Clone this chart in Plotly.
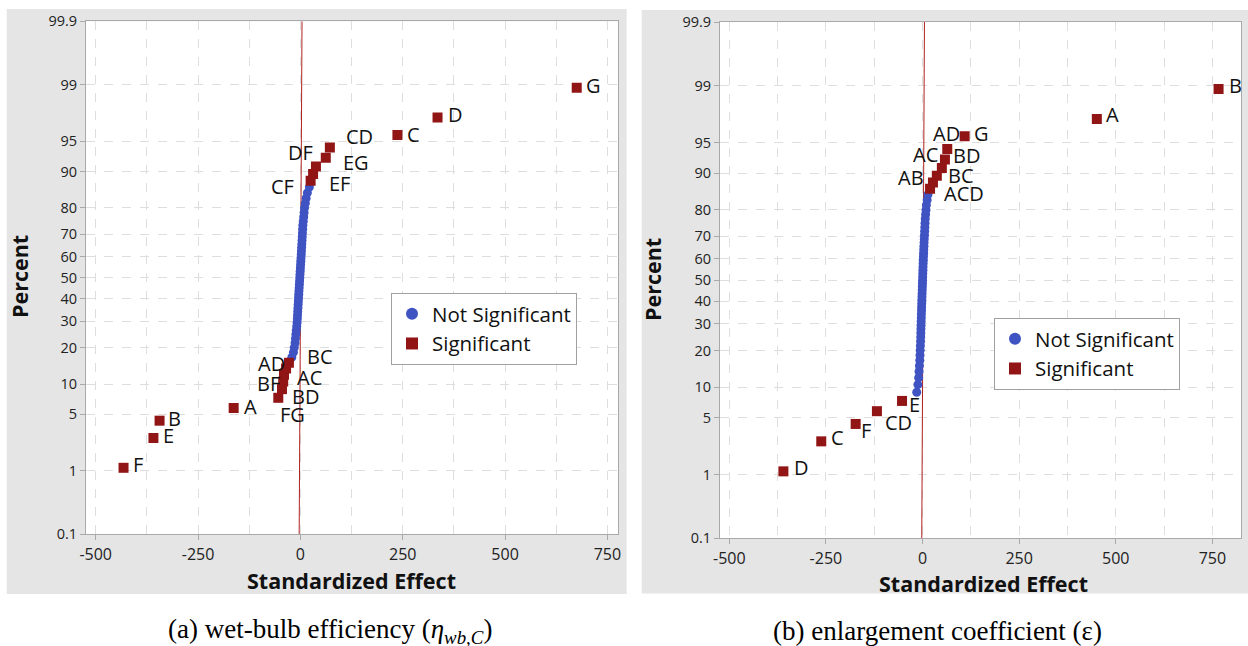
import plotly.graph_objects as go
from statistics import NormalDist

# ---------------- data ----------------
# Panel (a): wet-bulb efficiency
a_sig_names = ["F", "E", "B", "A", "FG", "BD", "BF", "AC", "AD", "BC",
               "CF", "EF", "EG", "DF", "CD", "C", "D", "G"]
a_sig_values = [-432, -359, -344, -163, -54, -45, -42, -40, -35, -28,
                25, 31, 38, 62, 72, 237, 335, 675]
a_ns_values = [-21, -17, -15, -13, -12, -11, -10, -9, -8, -7.5, -7, -6.5, -6, -5.5, -5,
               -4.5, -4, -3.5, -3, -2.5, -2, -1.5, -1, -0.5, 0, 0.5, 1, 1.5, 2, 2.5,
               3, 3.5, 4, 4.5, 5, 5.5, 6, 7, 8, 9, 10, 12, 14, 17, 22]
a_ref_line = [-3, 4]

# Panel (b): enlargement coefficient
b_sig_names = ["D", "C", "F", "CD", "E",
               "ACD", "AB", "BC", "BD", "AC", "AD", "G", "A", "B"]
b_sig_values = [-360, -262, -173, -118, -53,
                19.5, 27, 37, 50, 58, 64, 109, 451, 766]
b_ns_values = [-15, -12, -10, -9, -8, -7, -6.5, -6, -5.5,
               -5, -4.7, -4.4, -4.1, -3.8, -3.5, -3.2, -2.9, -2.6, -2.3, -2, -1.7, -1.4,
               -1.1, -0.8, -0.5, -0.2, 0.1, 0.4,
               0.7, 1, 1.3, 1.6, 2, 2.4, 2.8, 3.2, 3.6, 4, 4.5, 5, 5.5, 6, 6.5, 7,
               8, 9, 10, 12, 14]
b_ref_line = [-2, 5]

pct_ticks = [0.1, 1, 5, 10, 20, 30, 40, 50, 60, 70, 80, 90, 95, 99, 99.9]
pct_labels = ["0.1", "1", "5", "10", "20", "30", "40", "50", "60", "70", "80", "90", "95", "99", "99.9"]
x_ticks = [-500, -250, 0, 250, 500, 750]

# label offsets (px: dx right, dy down) – styling only
a_label_off = {"F": (14, -3), "E": (15, -2), "B": (15, -2), "A": (17, -2), "FG": (14, 17),
               "BD": (24, 7), "BF": (-15, 2), "AC": (25, 3), "AD": (-15, -5), "BC": (31, -6),
               "CF": (-28, 6), "EF": (26, 9), "EG": (40, -4), "DF": (-25, -5), "CD": (30, -11),
               "C": (16, 0), "D": (18, -3), "G": (17, -2)}
b_label_off = {"D": (18, -4), "C": (16, -4), "F": (10, 7), "CD": (22, 11), "E": (12, 4),
               "ACD": (34, 5), "AB": (-22, -5), "BC": (24, 0), "BD": (25, -13), "AC": (-19, -5),
               "AD": (-1, -16), "G": (17, -3), "A": (16, -4), "B": (17, -3)}

nd = NormalDist()
W, H = 1248, 646
BLUE = "#3f53c2"
RED = "#921515"
FONT = "Open Sans"


def fx(t):
    """pixel x -> paper fraction (clamped)"""
    return min(max(t / W, 0.0), 1.0)


def fy(t):
    """pixel y (from top) -> paper fraction (clamped)"""
    return min(max(1 - t / H, 0.0), 1.0)


def probit_positions(sig_names, sig_values, ns_values):
    items = [(v, nm) for v, nm in zip(sig_values, sig_names)] + [(v, None) for v in ns_values]
    items.sort(key=lambda t: t[0])
    n = len(items)
    out = []
    for i, (v, nm) in enumerate(items, start=1):
        p = (i - 0.3) / (n + 0.4)
        out.append((v, nd.inv_cdf(p), nm))
    return out


zmin, zmax = nd.inv_cdf(0.001), nd.inv_cdf(0.999)
ztick = [nd.inv_cdf(p / 100) for p in pct_ticks]

fig = go.Figure()

# panel backgrounds
shapes = [
    dict(type="rect", xref="paper", yref="paper", x0=fx(6.7), x1=fx(626.7),
         y0=fy(594), y1=fy(9), fillcolor="#e5e5e5", line_width=0, layer="below"),
    dict(type="rect", xref="paper", yref="paper", x0=fx(641.7), x1=1.0,
         y0=fy(593.5), y1=fy(10), fillcolor="#e5e5e5", line_width=0, layer="below"),
    dict(type="rect", xref="x domain", yref="y domain", x0=0, x1=1, y0=0, y1=1,
         fillcolor="white", line_width=0, layer="below"),
    dict(type="rect", xref="x2 domain", yref="y2 domain", x0=0, x1=1, y0=0, y1=1,
         fillcolor="white", line_width=0, layer="below"),
]

annotations = []
panels = [
    ("x", "y", "legend", a_sig_names, a_sig_values, a_ns_values, a_ref_line, a_label_off),
    ("x2", "y2", "legend2", b_sig_names, b_sig_values, b_ns_values, b_ref_line, b_label_off),
]
for xa, ya, lg, sn, sv, nv, refl, offs in panels:
    pts = probit_positions(sn, sv, nv)
    fig.add_trace(go.Scatter(x=refl, y=[zmin, zmax], mode="lines", xaxis=xa, yaxis=ya,
                             line=dict(color="#b02020", width=1), showlegend=False,
                             hoverinfo="skip"))
    ns = [p for p in pts if p[2] is None]
    sg = [p for p in pts if p[2] is not None]
    fig.add_trace(go.Scatter(x=[p[0] for p in ns], y=[p[1] for p in ns], mode="markers",
                             name="Not Significant", xaxis=xa, yaxis=ya, legend=lg,
                             marker=dict(symbol="circle", size=9, color=BLUE)))
    fig.add_trace(go.Scatter(x=[p[0] for p in sg], y=[p[1] for p in sg], mode="markers",
                             name="Significant", xaxis=xa, yaxis=ya, legend=lg,
                             marker=dict(symbol="square", size=10, color=RED)))
    for v, z, nm in sg:
        dx, dy = offs[nm]
        annotations.append(dict(x=v, y=z, xref=xa, yref=ya, text=nm, showarrow=False,
                                xanchor="center", yanchor="middle", xshift=dx, yshift=-dy,
                                font=dict(family=FONT, size=20, color="#111111")))

axis_common = dict(showline=True, mirror=True, linecolor="#a9a9a9", linewidth=1,
                   ticks="outside", ticklen=5, tickcolor="#a9a9a9",
                   showgrid=True, gridcolor="#dedede", griddash="dash", gridwidth=1,
                   zeroline=False, automargin=False)
xtickfont = dict(family=FONT, size=16, color="#222222")
ytickfont = dict(family=FONT, size=14.5, color="#222222")
minor_x = dict(dtick=125, tick0=0, showgrid=True, gridcolor="#dedede", griddash="dash", ticks="")

fig.update_layout(
    width=W, height=H, margin=dict(l=0, r=0, t=0, b=0, autoexpand=False),
    paper_bgcolor="white", plot_bgcolor="rgba(0,0,0,0)",
    shapes=shapes,
    xaxis=dict(domain=[fx(86), fx(618)], range=[-523.7, 775.8], anchor="y",
               tickvals=x_ticks, ticktext=[str(t) for t in x_ticks], tickfont=xtickfont,
               minor=minor_x, **axis_common),
    yaxis=dict(domain=[fy(534.3), fy(21.3)], range=[zmin, zmax], anchor="x",
               tickvals=ztick, ticktext=pct_labels, tickfont=ytickfont, **axis_common),
    xaxis2=dict(domain=[fx(720), fx(1241)], range=[-524, 824], anchor="y2",
                tickvals=x_ticks, ticktext=[str(t) for t in x_ticks], tickfont=xtickfont,
                minor=minor_x, **axis_common),
    yaxis2=dict(domain=[fy(538.3), fy(22)], range=[zmin, zmax], anchor="x2",
                tickvals=ztick, ticktext=pct_labels, tickfont=ytickfont, **axis_common),
    legend=dict(x=fx(391), y=fy(293), xanchor="left", yanchor="top",
                bgcolor="white", bordercolor="#a0a0a0", borderwidth=1,
                font=dict(family=FONT, size=20.5, color="#111111"), itemsizing="constant"),
    legend2=dict(x=fx(994), y=fy(318), xanchor="left", yanchor="top",
                 bgcolor="white", bordercolor="#a0a0a0", borderwidth=1,
                 font=dict(family=FONT, size=20.5, color="#111111"), itemsizing="constant"),
    showlegend=True,
)

title_font = dict(family=FONT, size=21.5, color="#111111")
annotations += [
    dict(x=fx(351), y=fy(580), xref="paper", yref="paper", text="<b>Standardized Effect</b>",
         showarrow=False, xanchor="center", yanchor="middle", font=title_font),
    dict(x=fx(983), y=fy(583), xref="paper", yref="paper", text="<b>Standardized Effect</b>",
         showarrow=False, xanchor="center", yanchor="middle", font=title_font),
    dict(x=fx(19), y=fy(277), xref="paper", yref="paper", text="<b>Percent</b>",
         showarrow=False, xanchor="center", yanchor="middle", textangle=-90, font=title_font),
    dict(x=fx(652), y=fy(280), xref="paper", yref="paper", text="<b>Percent</b>",
         showarrow=False, xanchor="center", yanchor="middle", textangle=-90, font=title_font),
    dict(x=fx(330), y=fy(631), xref="paper", yref="paper",
         text="(a) wet-bulb efficiency (<i>η</i><sub><i>wb,C</i></sub>)",
         showarrow=False, xanchor="center", yanchor="middle",
         font=dict(family="Liberation Serif", size=27, color="black")),
    dict(x=fx(937), y=fy(631), xref="paper", yref="paper",
         text="(b) enlargement coefficient (ε)",
         showarrow=False, xanchor="center", yanchor="middle",
         font=dict(family="Liberation Serif", size=27, color="black")),
]
fig.update_layout(annotations=annotations)

fig.write_html("out.html")
